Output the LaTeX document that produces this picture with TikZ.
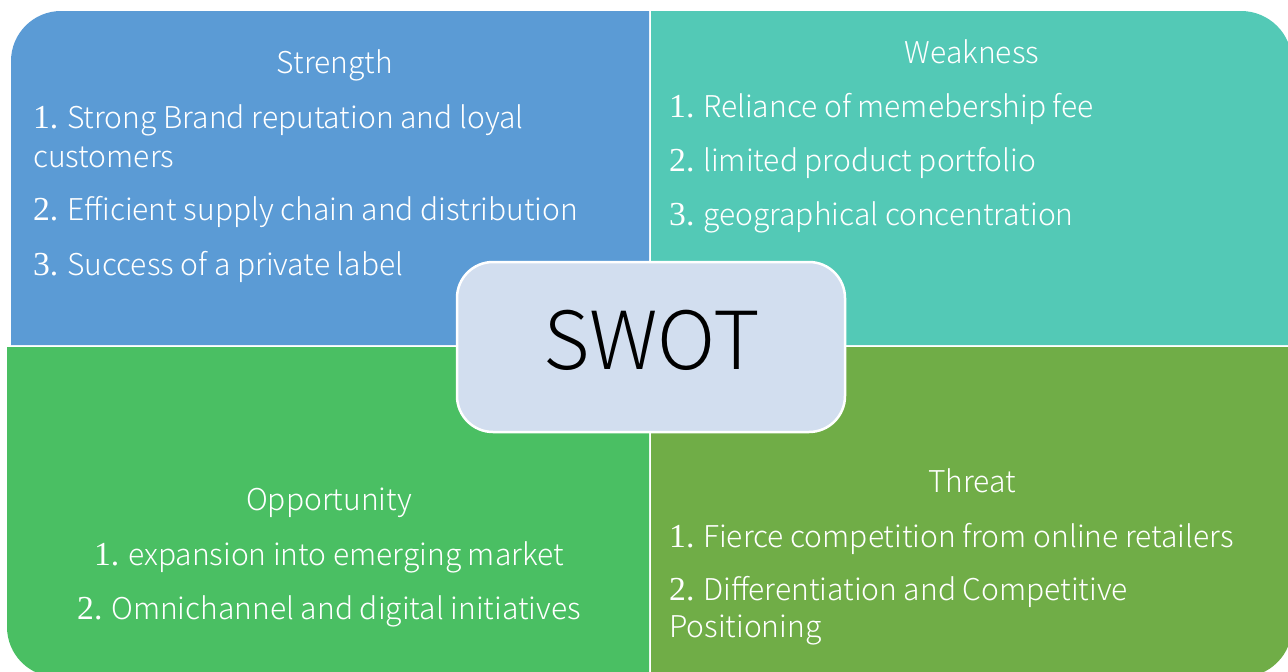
\documentclass[tikz,border=0pt]{standalone}
\usepackage{fontspec}
\IfFontExistsTF{Noto Sans CJK SC Light}
  {\setmainfont{Noto Sans CJK SC Light}}
  {\setmainfont{Noto Sans CJK SC}}
\newfontfamily\numfont{Liberation Serif}[Scale=1.12]
\begin{document}
\begin{tikzpicture}[x=1pt,y=-1pt,
  quadtext/.style={text=white,inner sep=0pt,font=\fontsize{30}{34}\selectfont},
  itemtext/.style={quadtext,anchor=base west},
  headtext/.style={quadtext,anchor=base},
  centerbox/.style={draw=white,line width=2.5pt,fill=swotcore,rounded corners=36pt}]
\definecolor{strengthc}{HTML}{5B9BD5}
\definecolor{weakc}{HTML}{53C9B6}
\definecolor{oppc}{HTML}{4ABF63}
\definecolor{threatc}{HTML}{70AD47}
\definecolor{swotcore}{HTML}{D2DEEF}
\useasboundingbox (0,0) rectangle (1288,672);
\begin{scope}
\clip (0,0) rectangle (1288,672);
% four quadrants, each rounded at its outer corner (y axis points down)
\fill[strengthc] (11,345) -- (11,61) arc[start angle=180,end angle=270,radius=50] -- (649,11) -- (649,345) -- cycle;
\fill[weakc] (651,345) -- (651,11) -- (1241,11) arc[start angle=270,end angle=360,radius=51] -- (1292,345) -- cycle;
\fill[oppc] (7,347) -- (649,347) -- (649,677) -- (57,677) arc[start angle=90,end angle=180,radius=50] -- cycle;
\fill[threatc] (651,347) -- (1292,347) -- (1292,627) arc[start angle=0,end angle=90,radius=50] -- (651,677) -- cycle;
\end{scope}
% Strength
\node[headtext] (sh) at (335,73) {Strength};
\node[itemtext] (s1) at (33,128) {{\numfont 1.} Strong Brand reputation and loyal};
\node[itemtext] (s1b) at (33,167) {customers};
\node[itemtext] (s2) at (33,220) {{\numfont 2.} Efficient supply chain and distribution};
\node[itemtext] (s3) at (33,275) {{\numfont 3.} Success of a private label};
% Weakness
\node[headtext] (wh) at (972,63) {Weakness};
\node[itemtext] (w1) at (669,117) {{\numfont 1.} Reliance of memebership fee};
\node[itemtext] (w2) at (669,171) {{\numfont 2.} limited product portfolio};
\node[itemtext] (w3) at (669,225) {{\numfont 3.} geographical concentration};
% Opportunity
\node[headtext] (oh) at (329,510) {Opportunity};
\node[headtext] (o1) at (329,565) {{\numfont 1.} expansion into emerging market};
\node[headtext] (o2) at (329,619) {{\numfont 2.} Omnichannel and digital initiatives};
% Threat
\node[headtext] (th) at (972,492) {Threat};
\node[itemtext] (t1) at (669,547) {{\numfont 1.} Fierce competition from online retailers};
\node[itemtext] (t2) at (669,600) {{\numfont 2.} Differentiation and Competitive};
\node[itemtext] (t2b) at (669,637) {Positioning};
% centre label
\draw[centerbox] (457,262) rectangle (845,432);
\node[anchor=base,inner sep=0pt,font=\fontsize{80}{84}\selectfont] (swot) at (652,369) {SWOT};
\end{tikzpicture}
\end{document}
